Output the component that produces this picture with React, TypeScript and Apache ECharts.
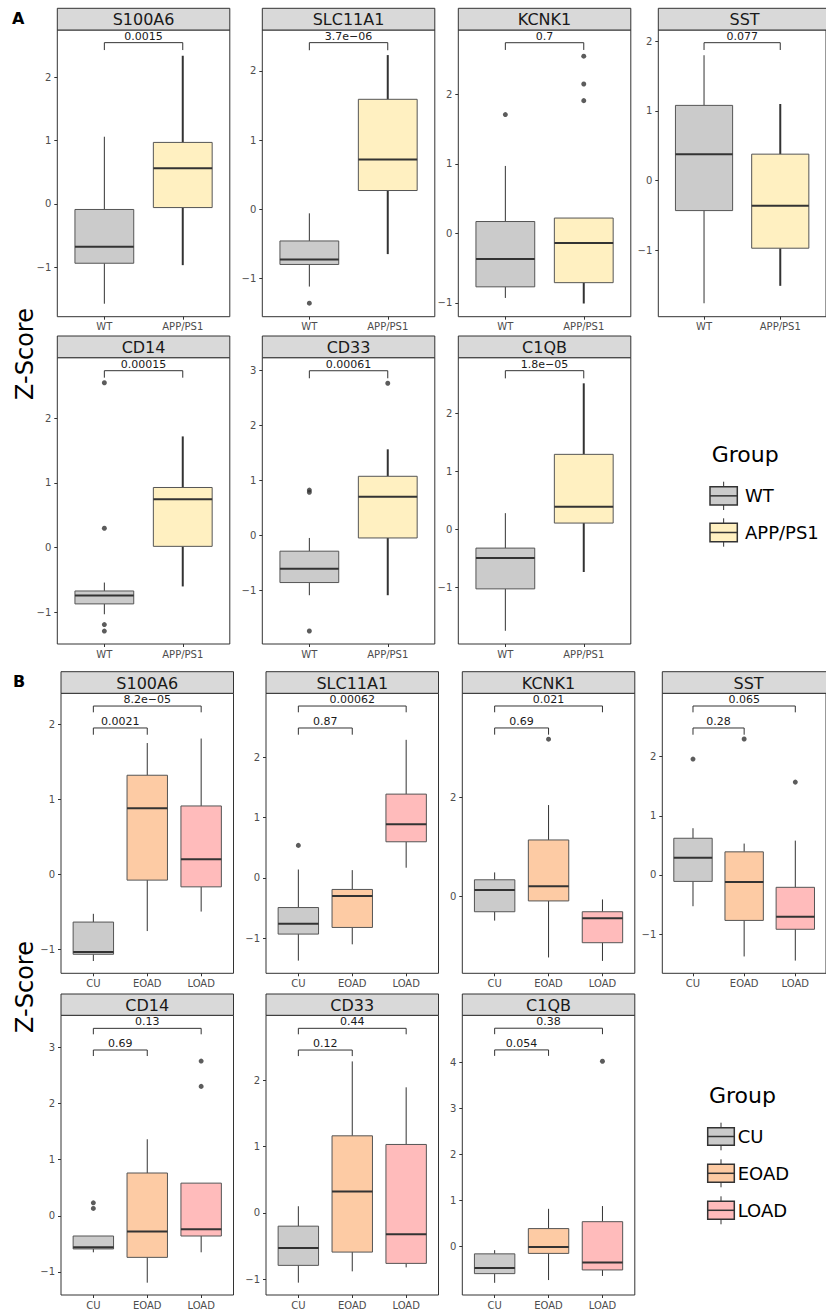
import React, { useEffect, useRef } from "react";
import * as echarts from "echarts";

// ---------- DATA ----------
const genes = ["S100A6", "SLC11A1", "KCNK1", "SST", "CD14", "CD33", "C1QB"];
const mouseGroups = ["WT", "APP/PS1"];
const humanGroups = ["CU", "EOAD", "LOAD"];

// box stats per group: [lower whisker, Q1, median, Q3, upper whisker]
const mouseS100A6 = [[-1.58, -0.94, -0.68, -0.09, 1.06], [-0.97, -0.06, 0.56, 0.97, 2.34]];
const mouseSLC11A1 = [[-1.12, -0.8, -0.73, -0.46, -0.06], [-0.65, 0.27, 0.72, 1.59, 2.23]];
const mouseKCNK1 = [[-0.93, -0.77, -0.37, 0.17, 0.97], [-1.01, -0.71, -0.14, 0.22, 0.22]];
const mouseSST = [[-1.76, -0.43, 0.38, 1.08, 1.8], [-1.51, -0.97, -0.36, 0.38, 1.1]];
const mouseCD14 = [[-1.03, -0.87, -0.74, -0.67, -0.54], [-0.6, 0.02, 0.75, 0.93, 1.72]];
const mouseCD33 = [[-1.09, -0.86, -0.61, -0.29, -0.05], [-1.09, -0.05, 0.7, 1.07, 1.56]];
const mouseC1QB = [[-1.74, -1.02, -0.49, -0.32, 0.28], [-0.73, 0.11, 0.39, 1.29, 2.51]];

const humanS100A6 = [[-1.16, -1.07, -1.04, -0.64, -0.53], [-0.76, -0.08, 0.88, 1.32, 1.75], [-0.5, -0.17, 0.2, 0.91, 1.81]];
const humanSLC11A1 = [[-1.37, -0.93, -0.76, -0.49, 0.14], [-1.1, -0.82, -0.3, -0.19, 0.13], [0.17, 0.6, 0.89, 1.39, 2.29]];
const humanKCNK1 = [[-0.5, -0.32, 0.12, 0.33, 0.48], [-1.25, -0.1, 0.2, 1.14, 1.85], [-1.32, -0.95, -0.45, -0.32, -0.07]];
const humanSST = [[-0.53, -0.11, 0.29, 0.62, 0.79], [-1.38, -0.77, -0.12, 0.39, 0.53], [-1.45, -0.92, -0.71, -0.21, 0.58]];
const humanCD14 = [[-0.65, -0.59, -0.56, -0.36, -0.36], [-1.19, -0.74, -0.28, 0.76, 1.36], [-0.65, -0.36, -0.24, 0.58, 0.58]];
const humanCD33 = [[-1.05, -0.79, -0.53, -0.2, 0.1], [-0.88, -0.59, 0.32, 1.16, 2.28], [-0.82, -0.76, -0.32, 1.03, 1.89]];
const humanC1QB = [[-0.8, -0.6, -0.48, -0.17, -0.09], [-0.74, -0.16, -0.02, 0.38, 0.81], [-0.65, -0.52, -0.36, 0.53, 0.87]];

// outliers: [group index, value]
const mouseOutS100A6: number[][] = [];
const mouseOutSLC11A1 = [[0, -1.36]];
const mouseOutKCNK1 = [[0, 1.71], [1, 2.55], [1, 2.15], [1, 1.91]];
const mouseOutSST: number[][] = [];
const mouseOutCD14 = [[0, 2.55], [0, 0.3], [0, -1.19], [0, -1.29]];
const mouseOutCD33 = [[0, 0.82], [0, 0.78], [0, -1.74], [1, 2.76]];
const mouseOutC1QB: number[][] = [];

const humanOutS100A6: number[][] = [];
const humanOutSLC11A1 = [[0, 0.54]];
const humanOutKCNK1 = [[1, 3.19]];
const humanOutSST = [[0, 1.96], [1, 2.3], [2, 1.57]];
const humanOutCD14 = [[0, 0.23], [0, 0.13], [2, 2.75], [2, 2.3]];
const humanOutCD33: number[][] = [];
const humanOutC1QB = [[2, 4.02]];

// p-values
const mousePValues = ["0.0015", "3.7e\u221206", "0.7", "0.077", "0.00015", "0.00061", "1.8e\u221205"];
const humanPValuesCUvsEOAD = ["0.0021", "0.87", "0.69", "0.28", "0.69", "0.12", "0.054"];
const humanPValuesCUvsLOAD = ["8.2e\u221205", "0.00062", "0.021", "0.065", "0.13", "0.44", "0.38"];

// bracket heights [top, tip end]
const mouseBracketY = [[2.547, 2.43], [2.41, 2.3], [2.744, 2.64], [1.98, 1.875], [2.736, 2.628], [2.987, 2.85], [2.727, 2.595]];
const humanBracketYEOAD = [[1.951, 1.861], [2.486, 2.375], [3.418, 3.282], [2.486, 2.372], [2.947, 2.84], [2.451, 2.36], [4.267, 4.137]];
const humanBracketYLOAD = [[2.244, 2.16], [2.85, 2.746], [3.865, 3.737], [2.858, 2.751], [3.332, 3.226], [2.778, 2.688], [4.739, 4.609]];

// y axis ranges & tick labels
const mouseYRange = [[-1.785, 2.747], [-1.556, 2.593], [-1.2, 2.927], [-1.953, 2.162], [-1.49, 2.937], [-1.976, 3.224], [-1.967, 2.95]];
const humanYRange = [[-1.324, 2.414], [-1.58, 3.061], [-1.572, 4.123], [-1.665, 3.073], [-1.409, 3.564], [-1.236, 2.974], [-1.065, 5.02]];
const mouseYTicks = [[-1, 0, 1, 2], [-1, 0, 1, 2], [-1, 0, 1, 2], [-1, 0, 1, 2], [-1, 0, 1, 2], [-1, 0, 1, 2, 3], [-1, 0, 1, 2]];
const humanYTicks = [[-1, 0, 1, 2], [-1, 0, 1, 2], [0, 2], [-1, 0, 1, 2], [-1, 0, 1, 2, 3], [-1, 0, 1, 2], [0, 1, 2, 3, 4]];

const mouseStats = [mouseS100A6, mouseSLC11A1, mouseKCNK1, mouseSST, mouseCD14, mouseCD33, mouseC1QB];
const humanStats = [humanS100A6, humanSLC11A1, humanKCNK1, humanSST, humanCD14, humanCD33, humanC1QB];
const mouseOut = [mouseOutS100A6, mouseOutSLC11A1, mouseOutKCNK1, mouseOutSST, mouseOutCD14, mouseOutCD33, mouseOutC1QB];
const humanOut = [humanOutS100A6, humanOutSLC11A1, humanOutKCNK1, humanOutSST, humanOutCD14, humanOutCD33, humanOutC1QB];

// ---------- STYLE / LAYOUT ----------
const FONT = "DejaVu Sans";
const mouseColors = ["#CBCBCB", "#FFF0C1"];
const humanColors = ["#CBCBCB", "#FDCBA4", "#FFBBBB"];
const mouseWhiskerW = [1, 2];
const humanWhiskerW = [1, 1, 1];
const colXA = [57.3, 262.3, 458.3, 658.3];
const colXB = [61, 266, 462.3, 662.3];
const rowsA = [{ strip: 8.3, top: 30, bottom: 316.7 }, { strip: 336, top: 357.7, bottom: 644 }];
const rowsB = [{ strip: 671.7, top: 693.3, bottom: 973.3 }, { strip: 994, top: 1015.3, bottom: 1295 }];
const PANEL_W = 172.5;

const fmtNum = (v: number) => (v < 0 ? "\u2212" + Math.abs(v) : String(v));

function buildOption() {
  const grids: any[] = [];
  const xAxes: any[] = [];
  const yAxes: any[] = [];
  const series: any[] = [];
  const graphics: any[] = [];

  const addPanel = (
    gene: string,
    groups: string[],
    stats: number[][],
    outs: number[][],
    yRange: number[],
    yTicks: number[],
    brackets: { x1: number; x2: number; y: number[]; label: string }[],
    colors: string[],
    whiskerW: number[],
    left: number,
    row: { strip: number; top: number; bottom: number }
  ) => {
    const idx = grids.length;
    const n = groups.length;
    const cats = groups.map((_, i) => i);
    grids.push({
      left,
      top: row.top,
      width: PANEL_W,
      height: row.bottom - row.top,
      show: true,
      borderColor: "#333333",
      borderWidth: 1,
      backgroundColor: "#ffffff",
    });
    xAxes.push({
      gridIndex: idx,
      type: "value",
      position: "bottom",
      min: -0.6,
      max: n - 1 + 0.6,
      axisLine: { show: false, onZero: false },
      splitLine: { show: false },
      axisTick: { show: true, customValues: cats, length: 3, lineStyle: { color: "#333333" } },
      axisLabel: {
        customValues: cats,
        formatter: (v: number) => groups[Math.round(v)] ?? "",
        fontSize: 10,
        color: "#4D4D4D",
        fontFamily: FONT,
        margin: 5,
      },
    });
    yAxes.push({
      gridIndex: idx,
      type: "value",
      position: "left",
      min: yRange[0],
      max: yRange[1],
      axisLine: { show: false, onZero: false },
      splitLine: { show: false },
      axisTick: { show: true, customValues: yTicks, length: 3, lineStyle: { color: "#333333" } },
      axisLabel: {
        customValues: yTicks,
        formatter: (v: number) => fmtNum(v),
        fontSize: 10,
        color: "#4D4D4D",
        fontFamily: FONT,
        margin: 6,
      },
    });
    series.push({
      type: "custom",
      xAxisIndex: idx,
      yAxisIndex: idx,
      data: stats.map((s, i) => [i, ...s]),
      encode: { x: 0, y: [1, 2, 3, 4, 5] },
      renderItem: (params: any, api: any) => {
        const g = api.value(0);
        const lo = api.coord([g, api.value(1)]);
        const q1 = api.coord([g, api.value(2)]);
        const md = api.coord([g, api.value(3)]);
        const q3 = api.coord([g, api.value(4)]);
        const hi = api.coord([g, api.value(5)]);
        const l = api.coord([g - 0.375, api.value(3)])[0];
        const r = api.coord([g + 0.375, api.value(3)])[0];
        const cx = md[0];
        const ww = whiskerW[g];
        return {
          type: "group",
          children: [
            { type: "line", shape: { x1: cx, y1: hi[1], x2: cx, y2: q3[1] }, style: { stroke: "#333333", lineWidth: ww } },
            { type: "line", shape: { x1: cx, y1: q1[1], x2: cx, y2: lo[1] }, style: { stroke: "#333333", lineWidth: ww } },
            {
              type: "rect",
              shape: { x: l, y: q3[1], width: r - l, height: q1[1] - q3[1] },
              style: { fill: colors[g], stroke: "#555555", lineWidth: 1 },
            },
            { type: "line", shape: { x1: l, y1: md[1], x2: r, y2: md[1] }, style: { stroke: "#333333", lineWidth: 2 } },
          ],
        };
      },
    });
    series.push({
      type: "scatter",
      xAxisIndex: idx,
      yAxisIndex: idx,
      data: outs,
      symbolSize: 5,
      itemStyle: { color: "#333333" },
    });
    series.push({
      type: "custom",
      xAxisIndex: idx,
      yAxisIndex: idx,
      data: brackets.map((b) => [b.x1, b.x2, b.y[0], b.y[1]]),
      encode: { x: [0, 1], y: [2, 3] },
      renderItem: (params: any, api: any) => {
        const x1 = api.value(0);
        const x2 = api.value(1);
        const a = api.coord([x1, api.value(3)]);
        const b = api.coord([x1, api.value(2)]);
        const c = api.coord([x2, api.value(2)]);
        const d = api.coord([x2, api.value(3)]);
        return {
          type: "group",
          children: [
            { type: "polyline", shape: { points: [a, b, c, d] }, style: { stroke: "#333333", lineWidth: 1, fill: null } },
            {
              type: "text",
              x: (b[0] + c[0]) / 2,
              y: b[1] - 1,
              style: {
                text: brackets[params.dataIndex].label,
                fontSize: 11,
                fontFamily: FONT,
                fill: "#1A1A1A",
                align: "center",
                verticalAlign: "bottom",
              },
            },
          ],
        };
      },
    });
    // strip header
    graphics.push({
      type: "rect",
      shape: { x: left, y: row.strip, width: PANEL_W, height: row.top - row.strip },
      style: { fill: "#D9D9D9", stroke: "#333333", lineWidth: 1 },
      z: 10,
    });
    graphics.push({
      type: "text",
      x: left + PANEL_W / 2,
      y: (row.strip + row.top) / 2 + 0.5,
      style: { text: gene, fontSize: 16, fontFamily: FONT, fill: "#1A1A1A", align: "center", verticalAlign: "middle" },
      z: 11,
    });
  };

  genes.forEach((gene, i) => {
    const r = i < 4 ? 0 : 1;
    const c = i < 4 ? i : i - 4;
    addPanel(
      gene,
      mouseGroups,
      mouseStats[i],
      mouseOut[i],
      mouseYRange[i],
      mouseYTicks[i],
      [{ x1: 0, x2: 1, y: mouseBracketY[i], label: mousePValues[i] }],
      mouseColors,
      mouseWhiskerW,
      colXA[c],
      rowsA[r]
    );
  });
  genes.forEach((gene, i) => {
    const r = i < 4 ? 0 : 1;
    const c = i < 4 ? i : i - 4;
    addPanel(
      gene,
      humanGroups,
      humanStats[i],
      humanOut[i],
      humanYRange[i],
      humanYTicks[i],
      [
        { x1: 0, x2: 1, y: humanBracketYEOAD[i], label: humanPValuesCUvsEOAD[i] },
        { x1: 0, x2: 2, y: humanBracketYLOAD[i], label: humanPValuesCUvsLOAD[i] },
      ],
      humanColors,
      humanWhiskerW,
      colXB[c],
      rowsB[r]
    );
  });

  // panel letters & y titles
  graphics.push({ type: "text", x: 12, y: 18, style: { text: "A", fontSize: 16, fontWeight: "bold", fontFamily: FONT, fill: "#000", verticalAlign: "middle" } });
  graphics.push({ type: "text", x: 13, y: 681, style: { text: "B", fontSize: 16, fontWeight: "bold", fontFamily: FONT, fill: "#000", verticalAlign: "middle" } });
  graphics.push({ type: "text", x: 25, y: 354, rotation: Math.PI / 2, style: { text: "Z-Score", fontSize: 24, fontFamily: FONT, fill: "#000", align: "center", verticalAlign: "middle" } });
  graphics.push({ type: "text", x: 25, y: 987, rotation: Math.PI / 2, style: { text: "Z-Score", fontSize: 24, fontFamily: FONT, fill: "#000", align: "center", verticalAlign: "middle" } });

  // legends
  const legend = (titleX: number, titleY: number, x0: number, x1: number, textX: number, keys: { label: string; color: string; top: number; bottom: number }[]) => {
    graphics.push({ type: "text", x: titleX, y: titleY, style: { text: "Group", fontSize: 22, fontFamily: FONT, fill: "#000", verticalAlign: "middle" } });
    keys.forEach((k) => {
      const cx = (x0 + x1) / 2;
      const mid = (k.top + k.bottom) / 2;
      graphics.push({ type: "line", shape: { x1: cx, y1: k.top - 5, x2: cx, y2: k.bottom + 5 }, style: { stroke: "#333", lineWidth: 1 } });
      graphics.push({ type: "rect", shape: { x: x0, y: k.top, width: x1 - x0, height: k.bottom - k.top }, style: { fill: k.color, stroke: "#333", lineWidth: 1.5 } });
      graphics.push({ type: "line", shape: { x1: x0, y1: mid, x2: x1, y2: mid }, style: { stroke: "#333", lineWidth: 1.5 } });
      graphics.push({ type: "text", x: textX, y: mid, style: { text: k.label, fontSize: 18, fontFamily: FONT, fill: "#000", verticalAlign: "middle" } });
    });
  };
  legend(711.7, 454, 710, 737.3, 745, [
    { label: mouseGroups[0], color: mouseColors[0], top: 486.7, bottom: 505 },
    { label: mouseGroups[1], color: mouseColors[1], top: 523.3, bottom: 541.7 },
  ]);
  legend(709, 1095, 707.7, 734.3, 737.7, [
    { label: humanGroups[0], color: humanColors[0], top: 1127.7, bottom: 1145.3 },
    { label: humanGroups[1], color: humanColors[1], top: 1164.3, bottom: 1182.3 },
    { label: humanGroups[2], color: humanColors[2], top: 1201.3, bottom: 1219.3 },
  ]);

  return {
    animation: false,
    backgroundColor: "#ffffff",
    grid: grids,
    xAxis: xAxes,
    yAxis: yAxes,
    series,
    graphic: graphics,
  };
}

export default function App() {
  const ref = useRef<HTMLDivElement>(null);
  useEffect(() => {
    if (!ref.current) return;
    const chart = echarts.init(ref.current, undefined, { renderer: "svg" });
    chart.setOption(buildOption() as any);
    return () => chart.dispose();
  }, []);
  return <div ref={ref} style={{ position: "absolute", left: 0, top: 0, width: 826, height: 1310 }} />;
}
